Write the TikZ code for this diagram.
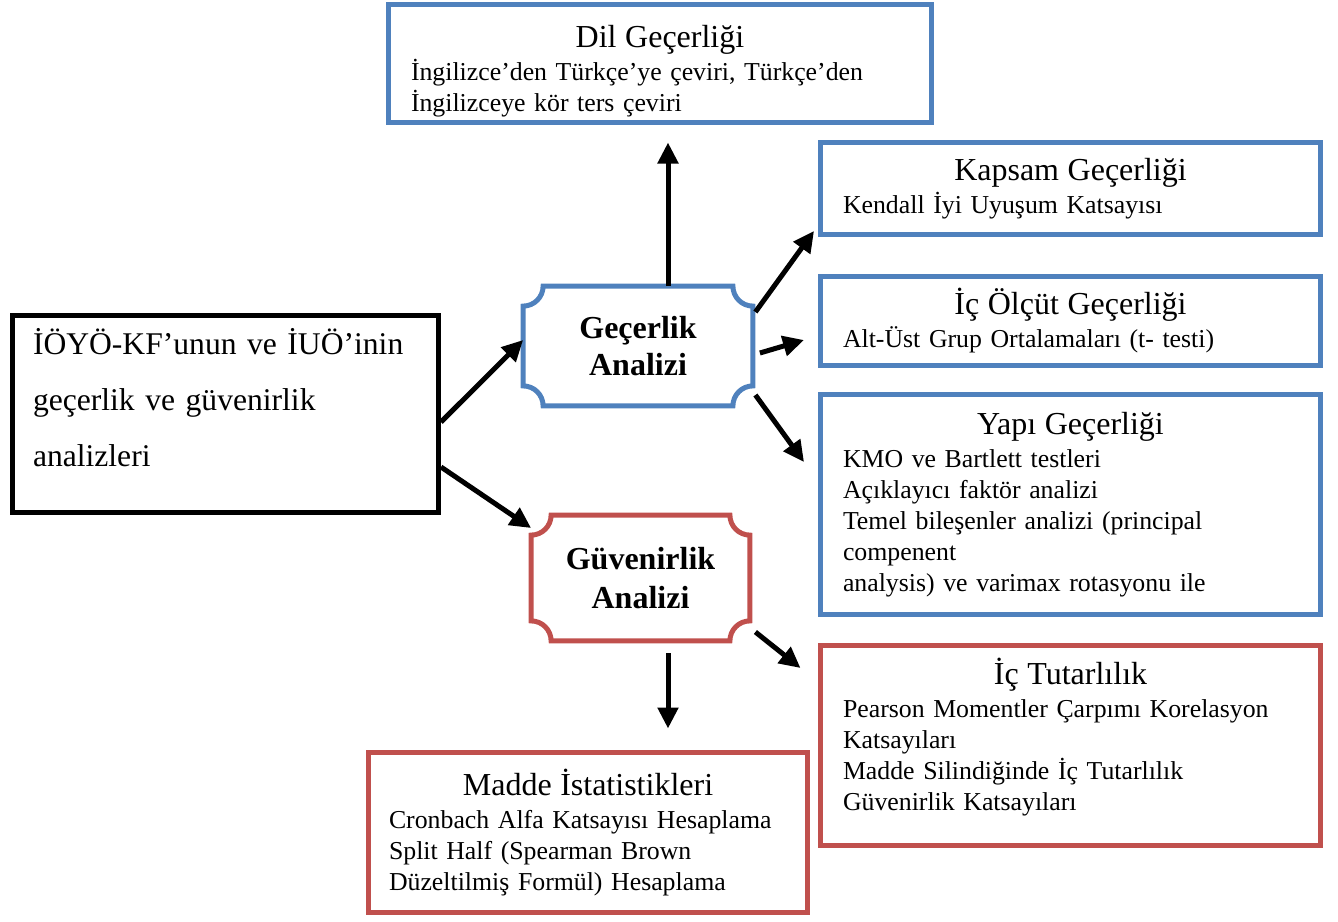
\documentclass[tikz,border=0pt]{standalone}
\usepackage{fontspec}
\setmainfont{Liberation Serif}
\usetikzlibrary{arrows.meta}
\definecolor{gecBlue}{RGB}{79,129,189}
\definecolor{guvRed}{RGB}{192,80,77}
\newcommand{\baslik}[1]{\makebox[\linewidth]{\fontsize{16}{18}\selectfont #1}}

\begin{document}
\begin{tikzpicture}[
  x=0.5pt, y=0.5pt,
  >={Triangle[length=10.5pt,width=10pt]},
  kutu/.style={
    rectangle,
    draw=#1,
    fill=white,
    line width=2.5pt,
    inner xsep=11.25pt,
    inner ysep=0pt,
    align=left,
    font=\fontsize{12.9}{15.5}\selectfont,
  },
  anakutu/.style={
    rectangle,
    draw=black,
    fill=white,
    line width=2.5pt,
    inner xsep=10.25pt,
    inner ysep=0pt,
    align=left,
    font=\fontsize{15.8}{28}\selectfont,
  },
  levha/.style={
    rectangle,
    inner sep=0pt,
    align=center,
    font=\fontsize{16}{18.5}\selectfont\bfseries,
  },
  ok/.style={->, line width=2.5pt, black},
]
  \useasboundingbox (0,0) rectangle (1338,-921);

  % sol ana kutu
  \node[anakutu, minimum width=213pt, minimum height=98.5pt, text width=192.5pt] (ana) at (225.5,-414)
    {İÖYÖ-KF’unun ve İUÖ’inin\\ geçerlik ve güvenirlik\\ analizleri\rule[-17pt]{0pt}{17pt}};

  % levhalar
  \node[levha, minimum width=114.5pt, minimum height=59.5pt] (gec) at (638,-346) {Geçerlik\\Analizi};
  \node[levha, minimum width=109pt, minimum height=62.5pt,
    font=\fontsize{16}{19.5}\selectfont\bfseries] (guv) at (640.5,-578) {Güvenirlik\\Analizi};

  \draw[line width=2.5pt, gecBlue] ([xshift=10pt]gec.north west) -- ([xshift=-10pt]gec.north east)
    arc[start angle=180, end angle=270, radius=10pt] -- ([yshift=10pt]gec.south east)
    arc[start angle=90, end angle=180, radius=10pt] -- ([xshift=10pt]gec.south west)
    arc[start angle=0, end angle=90, radius=10pt] -- ([yshift=-10pt]gec.north west)
    arc[start angle=270, end angle=360, radius=10pt] -- cycle;
  \draw[line width=2.5pt, guvRed] ([xshift=10pt]guv.north west) -- ([xshift=-10pt]guv.north east)
    arc[start angle=180, end angle=270, radius=10pt] -- ([yshift=10pt]guv.south east)
    arc[start angle=90, end angle=180, radius=10pt] -- ([xshift=10pt]guv.south west)
    arc[start angle=0, end angle=90, radius=10pt] -- ([yshift=-10pt]guv.north west)
    arc[start angle=270, end angle=360, radius=10pt] -- cycle;

  % gecerlik kutulari
  \node[kutu=gecBlue, minimum width=271.5pt, minimum height=59pt, text width=249pt] (dil) at (660,-63.5)
    {\baslik{\rule{0pt}{18.5pt}Dil Geçerliği}\\[1pt] İngilizce’den Türkçe’ye çeviri, Türkçe’den\\ İngilizceye kör ters çeviri};
  \node[kutu=gecBlue, minimum width=250pt, minimum height=46pt, text width=227.5pt] (kap) at (1070.5,-188.5)
    {\baslik{Kapsam Geçerliği}\\[1pt] Kendall İyi Uyuşum Katsayısı};
  \node[kutu=gecBlue, minimum width=250pt, minimum height=44.5pt, text width=227.5pt] (olc) at (1070.5,-321)
    {\baslik{İç Ölçüt Geçerliği}\\[1pt] Alt-Üst Grup Ortalamaları (t- testi)};
  \node[kutu=gecBlue, minimum width=250pt, minimum height=110pt, text width=227.5pt] (yap) at (1070.5,-504.5)
    {\baslik{Yapı Geçerliği}\\[1pt] KMO ve Bartlett testleri\\ Açıklayıcı faktör analizi\\
     Temel bileşenler analizi (principal\\ compenent\\ analysis) ve varimax rotasyonu ile};

  % guvenirlik kutulari
  \node[kutu=guvRed, minimum width=250pt, minimum height=100pt, text width=227.5pt] (ict) at (1070.5,-745.5)
    {\baslik{İç Tutarlılık}\\[1pt] Pearson Momentler Çarpımı Korelasyon\\ Katsayıları\\
     Madde Silindiğinde İç Tutarlılık\\ Güvenirlik Katsayıları\rule[-11.5pt]{0pt}{11.5pt}};
  \node[kutu=guvRed, minimum width=219.5pt, minimum height=80pt, text width=199pt, inner xsep=10.25pt] (mad) at (588,-832.5)
    {\baslik{Madde İstatistikleri}\\[1pt] Cronbach Alfa Katsayısı Hesaplama\\
     Split Half (Spearman Brown\\ Düzeltilmiş Formül) Hesaplama};

  % oklar
  \draw[ok] ([yshift=-4pt]ana.east) -- ([yshift=3pt]gec.west);
  \draw[ok] ([yshift=-26.5pt]ana.east) -- ([yshift=25pt]guv.west);
  \draw[ok] ([xshift=15pt]gec.north) -- ([xshift=4pt,yshift=-8.75pt]dil.south);
  \draw[ok] ([xshift=1.25pt,yshift=17pt]gec.east) -- ([xshift=-2pt,yshift=3pt]kap.south west);
  \draw[ok] ([xshift=3.5pt,yshift=-3.5pt]gec.east) -- ([xshift=-7pt,yshift=-9.5pt]olc.west);
  \draw[ok] ([xshift=1.25pt,yshift=-24.5pt]gec.east) -- ([xshift=-7pt,yshift=21.25pt]yap.west);
  \draw[ok] ([xshift=2.75pt,yshift=-27pt]guv.east) -- ([xshift=-8.75pt,yshift=38.75pt]ict.west);
  \draw[ok] ([xshift=13.75pt,yshift=-6.25pt]guv.south) -- ([xshift=40pt,yshift=10.75pt]mad.north);

\end{tikzpicture}
\end{document}
